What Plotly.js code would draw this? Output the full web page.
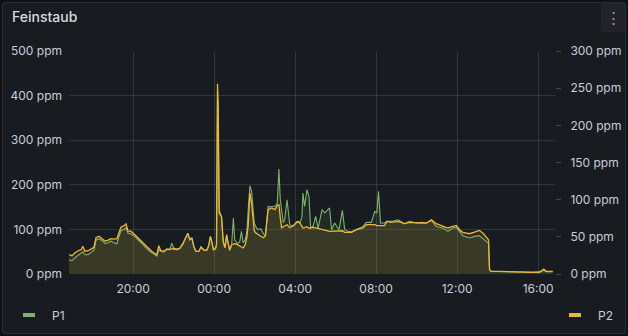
<!DOCTYPE html>
<html>
<head>
<meta charset="utf-8">
<script src="https://cdn.plot.ly/plotly-3.0.1.min.js"></script>
<style>
  html, body { margin:0; padding:0; background:#111217; width:628px; height:336px; overflow:hidden; }
  #panel { position:absolute; left:2px; top:2px; width:622px; height:330px; border:1px solid #2a2c32; border-radius:2px; background:#181b1f; }
  #menu { position:absolute; left:601px; top:3px; width:24px; height:29px; background:#212328; border-radius:2px; }
  #chart { position:absolute; left:0; top:0; width:628px; height:336px; }
</style>
</head>
<body>
<div id="panel"></div>
<div id="menu"></div>
<div id="chart"></div>
<script>
// ---- data ----
const times = [
 "2024-01-14 16:50","2024-01-14 16:59","2024-01-14 17:08","2024-01-14 17:17","2024-01-14 17:26","2024-01-14 17:31","2024-01-14 17:37","2024-01-14 17:46","2024-01-14 17:55","2024-01-14 18:04",
 "2024-01-14 18:10","2024-01-14 18:19","2024-01-14 18:28","2024-01-14 18:37","2024-01-14 18:46","2024-01-14 18:54","2024-01-14 19:03","2024-01-14 19:12","2024-01-14 19:18","2024-01-14 19:24",
 "2024-01-14 19:33","2024-01-14 19:39","2024-01-14 19:45","2024-01-14 19:53","2024-01-14 20:02","2024-01-14 20:11","2024-01-14 20:20","2024-01-14 20:29","2024-01-14 20:38","2024-01-14 20:47",
 "2024-01-14 20:56","2024-01-14 21:05","2024-01-14 21:10","2024-01-14 21:16","2024-01-14 21:22","2024-01-14 21:31","2024-01-14 21:40","2024-01-14 21:49","2024-01-14 21:55","2024-01-14 22:01",
 "2024-01-14 22:10","2024-01-14 22:18","2024-01-14 22:27","2024-01-14 22:36","2024-01-14 22:42","2024-01-14 22:48","2024-01-14 22:54","2024-01-14 23:00","2024-01-14 23:06","2024-01-14 23:15",
 "2024-01-14 23:21","2024-01-14 23:30","2024-01-14 23:38","2024-01-14 23:44","2024-01-14 23:49","2024-01-14 23:53","2024-01-14 23:58","2024-01-15 00:04","2024-01-15 00:07","2024-01-15 00:10",
 "2024-01-15 00:12","2024-01-15 00:15","2024-01-15 00:22","2024-01-15 00:27","2024-01-15 00:32","2024-01-15 00:37","2024-01-15 00:41","2024-01-15 00:46","2024-01-15 00:52","2024-01-15 00:57",
 "2024-01-15 01:01","2024-01-15 01:09","2024-01-15 01:16","2024-01-15 01:21","2024-01-15 01:26","2024-01-15 01:32","2024-01-15 01:37","2024-01-15 01:41","2024-01-15 01:46","2024-01-15 01:51",
 "2024-01-15 01:55","2024-01-15 01:59","2024-01-15 02:05","2024-01-15 02:10","2024-01-15 02:18","2024-01-15 02:26","2024-01-15 02:32","2024-01-15 02:36","2024-01-15 02:40","2024-01-15 02:50",
 "2024-01-15 03:00","2024-01-15 03:07","2024-01-15 03:12","2024-01-15 03:16","2024-01-15 03:20","2024-01-15 03:25","2024-01-15 03:29","2024-01-15 03:36","2024-01-15 03:44","2024-01-15 03:54",
 "2024-01-15 04:04","2024-01-15 04:09","2024-01-15 04:14","2024-01-15 04:20","2024-01-15 04:23","2024-01-15 04:28","2024-01-15 04:35","2024-01-15 04:41","2024-01-15 04:46","2024-01-15 04:53",
 "2024-01-15 05:01","2024-01-15 05:08","2024-01-15 05:20","2024-01-15 05:28","2024-01-15 05:42","2024-01-15 05:48","2024-01-15 05:57","2024-01-15 06:10","2024-01-15 06:20","2024-01-15 06:27",
 "2024-01-15 06:37","2024-01-15 06:47","2024-01-15 07:02","2024-01-15 07:21","2024-01-15 07:31","2024-01-15 07:46","2024-01-15 07:56","2024-01-15 08:02","2024-01-15 08:07","2024-01-15 08:13",
 "2024-01-15 08:25","2024-01-15 08:32","2024-01-15 08:45","2024-01-15 09:05","2024-01-15 09:24","2024-01-15 09:39","2024-01-15 09:59","2024-01-15 10:14","2024-01-15 10:29","2024-01-15 10:44",
 "2024-01-15 10:58","2024-01-15 11:18","2024-01-15 11:33","2024-01-15 11:47","2024-01-15 11:58","2024-01-15 12:07","2024-01-15 12:17","2024-01-15 12:37","2024-01-15 12:52","2024-01-15 13:06",
 "2024-01-15 13:16","2024-01-15 13:26","2024-01-15 13:33","2024-01-15 13:36","2024-01-15 13:41","2024-01-15 14:06","2024-01-15 14:55","2024-01-15 15:44","2024-01-15 16:04","2024-01-15 16:17",
 "2024-01-15 16:24","2024-01-15 16:43"
];
const p1 = [
 32.1, 29.8, 36.5, 41.0, 45.5, 50.0, 43.2, 43.2, 47.8, 53.4,
 75.8, 79.1, 74.7, 67.9, 70.2, 73.5, 70.2, 67.9, 83.6, 97.1,
 100.4, 103.8, 91.5, 90.4, 85.9, 80.3, 72.9, 65.7, 58.6, 52.2,
 47.8, 42.2, 39.9, 54.5, 51.1, 48.9, 54.5, 56.7, 69.1, 54.5,
 56.7, 56.7, 65.7, 81.4, 90.4, 76.9, 80.3, 61.2, 51.1, 51.1,
 60.1, 54.5, 53.4, 63.4, 83.6, 72.4, 54.5, 56.7, 65.7, 395.0,
 330.0, 144.2, 126.2, 70.2, 59.0, 85.9, 67.9, 56.7, 65.7, 125.6,
 76.9, 67.9, 72.4, 95.5, 70.2, 76.9, 94.8, 144.2, 198.0, 185.2,
 155.4, 114.3, 103.8, 99.3, 101.6, 90.4, 85.9, 117.3, 151.6, 150.9,
 152.0, 157.6, 235.4, 166.6, 139.7, 115.0, 121.7, 166.6, 110.5, 106.7,
 117.3, 115.0, 114.3, 126.2, 181.6, 151.6, 189.0, 174.0, 103.1, 106.7,
 129.1, 103.1, 144.2, 136.8, 148.0, 99.3, 114.3, 99.3, 142.6, 99.3,
 95.5, 94.8, 99.3, 106.7, 115.7, 115.7, 140.3, 136.8, 185.2, 114.3,
 114.3, 117.9, 117.9, 121.7, 112.8, 117.9, 114.3, 115.7, 114.3, 120.2,
 106.7, 103.1, 95.5, 103.1, 104.5, 94.8, 85.9, 80.7, 84.3, 85.9,
 78.5, 73.1, 69.5, 9.6, 5.8, 5.2, 4.0, 2.9, 3.6, 8.5,
 5.2, 5.2
];
const p2 = [
 26.0, 24.6, 28.6, 31.3, 32.7, 37.4, 30.7, 31.3, 33.4, 36.0,
 48.8, 50.8, 47.5, 44.1, 45.5, 47.5, 46.8, 47.5, 55.5, 62.9,
 65.0, 67.3, 57.6, 57.6, 54.2, 50.6, 46.1, 42.1, 38.1, 34.0,
 30.4, 27.3, 26.0, 38.1, 31.3, 30.7, 33.6, 32.7, 33.4, 34.7,
 32.7, 34.7, 40.8, 50.2, 54.9, 46.1, 48.8, 36.7, 30.4, 30.4,
 36.3, 31.7, 31.7, 38.1, 50.6, 43.4, 32.7, 34.0, 39.4, 256.0,
 230.0, 82.0, 77.5, 43.8, 35.4, 52.9, 40.8, 31.7, 39.4, 40.8,
 40.8, 39.4, 37.4, 36.7, 35.0, 39.4, 48.8, 66.3, 108.9, 95.5,
 75.7, 57.6, 54.9, 52.9, 50.8, 48.8, 51.5, 70.3, 86.5, 88.8,
 86.5, 91.9, 93.2, 75.7, 62.3, 63.6, 65.0, 66.3, 62.3, 65.0,
 69.0, 70.7, 68.6, 63.6, 61.9, 62.3, 63.6, 61.6, 61.9, 62.7,
 61.9, 60.9, 59.6, 58.9, 57.3, 57.3, 57.3, 58.2, 58.2, 56.0,
 56.0, 56.0, 59.6, 61.9, 66.3, 66.3, 66.3, 65.0, 65.0, 65.0,
 65.0, 70.7, 69.4, 70.7, 67.7, 69.4, 68.6, 68.6, 68.6, 73.0,
 67.7, 64.0, 61.9, 64.0, 65.4, 59.6, 56.0, 54.2, 56.0, 58.6,
 55.1, 50.6, 46.1, 5.8, 3.5, 3.5, 2.7, 2.2, 2.7, 6.7,
 3.5, 3.5
];
const seriesNames = ["P1", "P2"];
const xTickStart = "2024-01-14 20:00";
const xRange = ["2024-01-14 16:50", "2024-01-15 16:50"];
const leftRange = [0, 500];
const rightRange = [0, 300];

// ---- style ----
const GREEN = "#7EB26D", YELLOW = "#EAB839";
const TXT = "#ccccdc";
const FONT = "Inter, 'Open Sans', sans-serif";

const traces = [
  { x: times, y: p1, name: seriesNames[0], type: "scatter", mode: "lines",
    line: { color: GREEN, width: 1.1 }, fill: "tozeroy", fillcolor: "rgba(126,178,109,0.10)",
    yaxis: "y", showlegend: false, hoverinfo: "skip" },
  { x: times, y: p2, name: seriesNames[1], type: "scatter", mode: "lines",
    line: { color: YELLOW, width: 1.3 }, fill: "tozeroy", fillcolor: "rgba(234,184,57,0.11)",
    yaxis: "y2", showlegend: false, hoverinfo: "skip" }
];

const W = 486, H = 223; // plot area size
function px(xpix) { return (xpix - 69) / W; }
function py(ypix) { return (274 - ypix) / H; }

const layout = {
  width: 628, height: 336,
  margin: { l: 69, r: 73, t: 51, b: 62, pad: 0 },
  paper_bgcolor: "rgba(0,0,0,0)", plot_bgcolor: "rgba(0,0,0,0)",
  font: { family: FONT, size: 12, color: TXT },
  title: { text: "Feinstaub", xref: "container", yref: "container",
           x: 12/628, xanchor: "left", y: 1 - 17/336, yanchor: "middle",
           font: { family: FONT, size: 14, color: "#d8d9e0", weight: 500 } },
  xaxis: { type: "date", range: xRange, tick0: xTickStart, dtick: 4*3600*1000,
           tickformat: "%H:%M", showgrid: true, gridcolor: "rgba(204,204,220,0.15)", gridwidth: 1,
           zeroline: false, showline: false, ticks: "", ticklabelstandoff: 6,
           tickfont: { family: FONT, size: 12, color: TXT } },
  yaxis: { range: leftRange, dtick: 100, ticksuffix: " ppm", showgrid: true,
           gridcolor: "rgba(204,204,220,0.15)", gridwidth: 1, zeroline: false, showline: false,
           ticks: "", ticklabelstandoff: 6, tickfont: { family: FONT, size: 12, color: TXT } },
  yaxis2: { range: rightRange, dtick: 50, ticksuffix: " ppm", overlaying: "y", side: "right",
            showgrid: false, zeroline: false, showline: false, ticks: "outside", ticklen: 5,
            tickcolor: "rgba(204,204,220,0.25)", tickwidth: 1, ticklabelstandoff: 7,
            tickfont: { family: FONT, size: 12, color: TXT } },
  shapes: [
    { type: "line", xref: "paper", yref: "paper", x0: px(23), x1: px(35), y0: py(315), y1: py(315),
      line: { color: GREEN, width: 4 } },
    { type: "line", xref: "paper", yref: "paper", x0: px(569), x1: px(581), y0: py(315), y1: py(315),
      line: { color: YELLOW, width: 4 } }
  ],
  annotations: [
    { text: seriesNames[0], xref: "paper", yref: "paper", x: px(50), y: py(315), xanchor: "left", yanchor: "middle",
      showarrow: false, font: { family: FONT, size: 12, color: TXT } },
    { text: seriesNames[1], xref: "paper", yref: "paper", x: px(596), y: py(315), xanchor: "left", yanchor: "middle",
      showarrow: false, font: { family: FONT, size: 12, color: TXT } },
    { text: "⋮", xref: "paper", yref: "paper", x: px(613.5), y: py(17), xanchor: "center", yanchor: "middle",
      showarrow: false, font: { family: FONT, size: 15, color: "#9fa1ab" } }
  ]
};

Plotly.newPlot("chart", traces, layout, { displayModeBar: false, staticPlot: true });
</script>
</body>
</html>
